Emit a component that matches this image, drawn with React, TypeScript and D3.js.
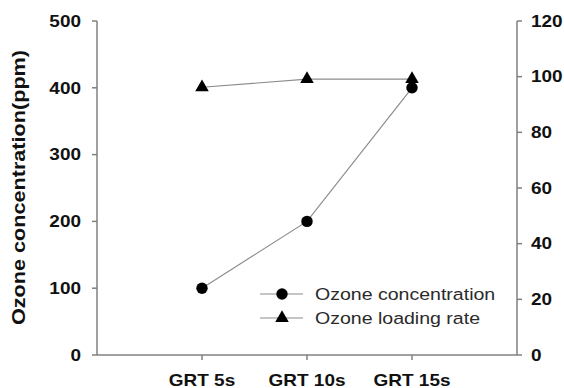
import React from "react";
import * as d3 from "d3";

const categories = ["GRT 5s", "GRT 10s", "GRT 15s"];
const concentration = [100, 200, 400];
const loadingRate = [96.2, 99.1, 99.1];
const leftTicks = [0, 100, 200, 300, 400, 500];
const rightTicks = [0, 20, 40, 60, 80, 100, 120];

const W = 564;
const H = 388;
const left = 97;
const right = 517;
const top = 21;
const bottom = 355;

const font = "Arial, 'Liberation Sans', sans-serif";
const SX = 1.15; // horizontal widening of the label glyphs

function Label(props: {
  x: number;
  y: number;
  anchor?: "start" | "middle" | "end";
  size: number;
  bold?: boolean;
  fill?: string;
  children: React.ReactNode;
}) {
  return (
    <text
      transform={`translate(${props.x},${props.y}) scale(${SX},1)`}
      dy="0.35em"
      textAnchor={props.anchor ?? "start"}
      fontFamily={font}
      fontWeight={props.bold ? "bold" : "normal"}
      fontSize={props.size}
      fill={props.fill ?? "#111"}
    >
      {props.children}
    </text>
  );
}

export default function App() {
  const x = d3.scalePoint<string>().domain(categories).range([left, right]).padding(1);
  const yL = d3.scaleLinear().domain([0, 500]).range([bottom, top]);
  const yR = d3.scaleLinear().domain([0, 120]).range([bottom, top]);

  const concLine = d3
    .line<number>()
    .x((_, i) => x(categories[i])!)
    .y((d) => yL(d))(concentration)!;
  const rateLine = d3
    .line<number>()
    .x((_, i) => x(categories[i])!)
    .y((d) => yR(d))(loadingRate)!;

  const tri = d3.symbol().type(d3.symbolTriangle).size(80)()!;
  const axisColor = "#808080";
  const lineColor = "#8c8c8c";

  return (
    <svg width={W} height={H} style={{ position: "absolute", left: 0, top: 0, background: "#fff" }}>
      {/* left axis */}
      <line x1={left} x2={left} y1={top} y2={bottom} stroke={axisColor} strokeWidth={1.5} />
      {leftTicks.map((t) => (
        <g key={"l" + t}>
          <line x1={left - 5} x2={left} y1={yL(t)} y2={yL(t)} stroke={axisColor} strokeWidth={1.5} />
          <Label x={81} y={yL(t)} anchor="end" size={16.5} bold>
            {t}
          </Label>
        </g>
      ))}
      {/* right axis */}
      <line x1={right} x2={right} y1={top} y2={bottom} stroke={axisColor} strokeWidth={1.5} />
      {rightTicks.map((t) => (
        <g key={"r" + t}>
          <line x1={right} x2={right + 5} y1={yR(t)} y2={yR(t)} stroke={axisColor} strokeWidth={1.5} />
          <Label x={531} y={yR(t)} size={16.5} bold>
            {t}
          </Label>
        </g>
      ))}
      {/* category axis */}
      <line x1={left} x2={right} y1={bottom} y2={bottom} stroke={axisColor} strokeWidth={1.5} />
      {categories.map((c) => (
        <g key={c}>
          <line x1={x(c)!} x2={x(c)!} y1={bottom} y2={bottom + 5} stroke={axisColor} strokeWidth={1.5} />
          <Label x={x(c)!} y={380.5} anchor="middle" size={16.5} bold>
            {c}
          </Label>
        </g>
      ))}
      <text
        transform={`translate(25,187.5) rotate(-90)`}
        textAnchor="middle"
        fontFamily={font}
        fontWeight="bold"
        fontSize={18}
        textLength={275}
        lengthAdjust="spacingAndGlyphs"
        fill="#111"
      >
        Ozone concentration(ppm)
      </text>

      {/* series */}
      <path d={rateLine} fill="none" stroke={lineColor} strokeWidth={1.2} />
      <path d={concLine} fill="none" stroke={lineColor} strokeWidth={1.2} />
      {concentration.map((v, i) => (
        <circle key={"c" + i} cx={x(categories[i])!} cy={yL(v)} r={5.7} fill="#000" />
      ))}
      {loadingRate.map((v, i) => (
        <path key={"t" + i} d={tri} transform={`translate(${x(categories[i])!},${yR(v)})`} fill="#000" />
      ))}

      {/* legend */}
      <line x1={260} x2={303} y1={294} y2={294} stroke={lineColor} strokeWidth={1.2} />
      <circle cx={282} cy={294} r={5.7} fill="#000" />
      <Label x={315} y={294} size={17} fill="#2a2a2a">
        Ozone concentration
      </Label>
      <line x1={260} x2={303} y1={318} y2={318} stroke={lineColor} strokeWidth={1.2} />
      <path d={tri} transform="translate(282,318)" fill="#000" />
      <Label x={315} y={318} size={17} fill="#2a2a2a">
        Ozone loading rate
      </Label>
    </svg>
  );
}
